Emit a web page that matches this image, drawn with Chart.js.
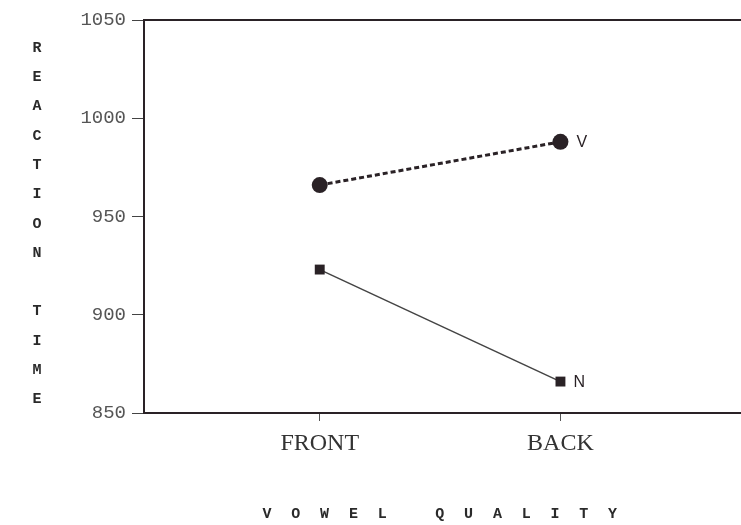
<!DOCTYPE html>
<html>
<head>
<meta charset="utf-8">
<script src="https://cdn.jsdelivr.net/npm/chart.js@4"></script>
<style>
  html, body { margin: 0; padding: 0; background: #fff; overflow: hidden; }
  #wrap { width: 741px; height: 525px; position: relative; }
  #chart { display: block; }
</style>
</head>
<body>
<div id="wrap"><canvas id="chart"></canvas></div>
<script>
// values
const categories = ['FRONT', 'BACK'];
const vValues = [966, 988];
const nValues = [923, 866];
const seriesNames = ['V', 'N'];
const yTicks = [850, 900, 950, 1000, 1050];
const yTitle = 'REACTION TIME';
const xTitle = 'VOWEL QUALITY';

const ink = '#2a2226';

function points(values) {
    return values.map(function (v, i) { return { x: i + 1, y: v }; });
}

// spaced-out typewriter titles + end labels + top frame line
const decorations = {
    id: 'decorations',
    afterDraw: function (chart) {
        const ctx = chart.ctx;
        const area = chart.chartArea;
        ctx.save();

        ctx.strokeStyle = ink;
        ctx.lineWidth = 2;
        ctx.beginPath();
        ctx.moveTo(area.left, area.top);
        ctx.lineTo(area.right, area.top);
        ctx.stroke();

        ctx.fillStyle = '#2a2a2a';
        ctx.font = 'bold 15px "Liberation Mono", monospace';
        ctx.textAlign = 'center';
        ctx.textBaseline = 'middle';
        yTitle.split('').forEach(function (ch, i) {
            if (ch !== ' ') ctx.fillText(ch, 37, 48 + i * 29.3);
        });
        xTitle.split('').forEach(function (ch, i) {
            if (ch !== ' ') ctx.fillText(ch, 267 + i * 28.8, 514);
        });

        ctx.font = '16px "Liberation Sans", Arial, sans-serif';
        ctx.textAlign = 'left';
        ctx.fillStyle = ink;
        chart.data.datasets.forEach(function (ds, d) {
            const meta = chart.getDatasetMeta(d);
            const last = meta.data[meta.data.length - 1];
            ctx.fillText(seriesNames[d], last.x + (d === 0 ? 16 : 13), last.y + 1);
        });
        ctx.restore();
    }
};

new Chart(document.getElementById('chart'), {
    type: 'line',
    data: {
        datasets: [
            {
                label: seriesNames[0],
                data: points(vValues),
                borderColor: ink,
                backgroundColor: ink,
                borderWidth: 3,
                borderDash: [5, 3],
                pointStyle: 'circle',
                pointRadius: 8,
                pointBorderWidth: 0,
                fill: false,
            },
            {
                label: seriesNames[1],
                data: points(nValues),
                borderColor: '#444',
                backgroundColor: ink,
                borderWidth: 1.5,
                pointStyle: 'rect',
                pointRadius: 7,
                pointBorderWidth: 0,
                fill: false,
            },
        ],
    },
    options: {
        responsive: true,
        maintainAspectRatio: false,
        animation: false,
        layout: { autoPadding: false, padding: { top: 20, right: 0, bottom: 0, left: 0 } },
        plugins: {
            legend: { display: false },
            tooltip: { enabled: false },
        },
        scales: {
            x: {
                type: 'linear',
                min: 0.27,
                max: 2.75,
                afterBuildTicks: function (scale) {
                    scale.ticks = categories.map(function (c, i) { return { value: i + 1 }; });
                },
                afterFit: function (scale) {
                    scale.height = 112;
                    scale.paddingLeft = 0;
                    scale.paddingRight = 0;
                },
                ticks: {
                    callback: function (value) { return categories[value - 1]; },
                    color: '#333',
                    font: { family: '"Liberation Serif", "Times New Roman", serif', size: 24 },
                    padding: 8,
                    maxRotation: 0,
                },
                grid: { drawOnChartArea: false, tickLength: 8, color: '#555', tickWidth: 1 },
                border: { color: ink, width: 2 },
            },
            y: {
                min: yTicks[0],
                max: yTicks[yTicks.length - 1],
                afterBuildTicks: function (scale) {
                    scale.ticks = yTicks.map(function (v) { return { value: v }; });
                },
                afterFit: function (scale) { scale.width = 144; },
                ticks: {
                    callback: function (value) { return String(value); },
                    color: '#555',
                    font: { family: '"Liberation Mono", "Courier New", monospace', size: 19 },
                    padding: 6,
                },
                grid: { drawOnChartArea: false, tickLength: 12, color: '#444', tickWidth: 1 },
                border: { color: ink, width: 2 },
            },
        },
    },
    plugins: [decorations],
});
</script>
</body>
</html>
